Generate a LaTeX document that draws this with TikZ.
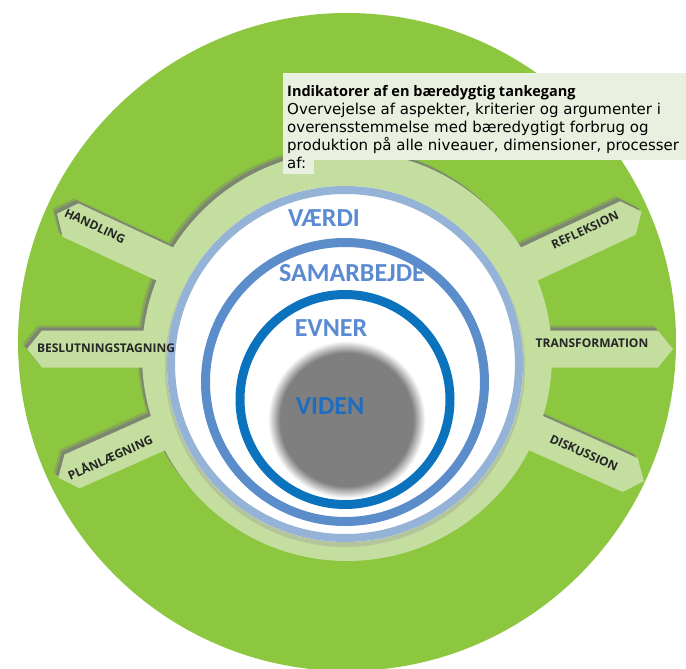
\documentclass[tikz,border=0pt]{standalone}
\usepackage{fontspec}
\usepackage{graphicx}
\setmainfont{DejaVu Sans}
\newfontfamily\osans{Open Sans}
\newfontfamily\calfont{Carlito}
\definecolor{biggreen}{HTML}{8DC63F}
\definecolor{ltgreen}{HTML}{C4DE9F}
\definecolor{shadowc}{HTML}{7C8670}
\definecolor{ltblue}{HTML}{95B3D7}
\definecolor{midblue}{HTML}{5B8DCB}
\definecolor{dkblue}{HTML}{0B72BE}
\definecolor{discgray}{HTML}{7F7F80}
\definecolor{wordblue}{HTML}{5A8AD2}
\definecolor{vidblue}{HTML}{1F6DC2}
\definecolor{boxfill}{HTML}{EAF0DF}
\definecolor{labelc}{HTML}{262626}
\pgfdeclareradialshading{blurdisc}{\pgfpoint{0bp}{0bp}}{color(0bp)=(discgray); color(20.8bp)=(discgray); color(24.6bp)=(white); color(50bp)=(white)}
\newcommand\armpath[3]{\fill[#3,shift={(347,349)},rotate=#1] (0,-18.5) -- ({#2-15},-18.5) -- (#2,0) -- ({#2-15},18.5) -- (0,18.5) -- cycle;}
\newcommand\armset[1]{%
  \fill[#1] (347,356) circle (205);
  \armpath{0}{326}{#1}
  \armpath{25}{325}{#1}
  \armpath{-24}{325}{#1}
  \armpath{180}{320}{#1}
  \armpath{155}{320}{#1}
  \armpath{204}{316}{#1}}
\begin{document}
\begin{tikzpicture}[x=1pt,y=-1pt,
  armlabel/.style={font=\osans\bfseries\fontsize{12}{14}\selectfont, text=labelc, inner sep=0pt},
  bigword/.style={font=\calfont\bfseries\fontsize{26}{30}\selectfont, text=wordblue, inner sep=0pt},
  boxline/.style={font=\fontsize{15}{18}\selectfont, text=black, inner sep=0pt, anchor=base west}]
\useasboundingbox (0,0) rectangle (686,669);
\fill[white] (0,0) rectangle (686,669);
\fill[biggreen] (347,342) circle (329);
% ring with arms, shadow first
\begin{scope}[shift={(-4.5,-5)}]
  \armset{shadowc!45!biggreen}
\end{scope}
\begin{scope}[shift={(-2.5,-3)}]
  \armset{shadowc}
\end{scope}
\armset{ltgreen}
% concentric rings
\fill[black!40, opacity=0.35] (345,367) circle (180);
\fill[white] (345,364) circle (178);
\draw[ltblue, line width=8] (345,364) circle (174);
\draw[midblue, line width=9] (345,382) circle (139.5);
\draw[dkblue, line width=9] (345,399.5) circle (105);
\shade[shading=blurdisc] (346.5,419.5) circle (80);
% words
\node[bigword] (vaerdi) at (324,218) {VÆRDI};
\node[bigword] (samarbejde) at (352,273) {SAMARBEJDE};
\node[bigword] (evner) at (331,328) {EVNER};
\node[bigword, text=vidblue] (viden) at (330,406) {VIDEN};
% arm labels
\node[armlabel, rotate=-25] (handling) at (95,226) {HANDLING};
\node[armlabel] (beslut) at (106,348) {BESLUTNINGSTAGNING};
\node[armlabel, rotate=24] (plan) at (110,457) {PLÅNLÆGNING};
\node[armlabel, rotate=25] (refleksion) at (585,230) {REFLEKSION};
\node[armlabel] (transf) at (592,343) {TRANSFORMATION};
\node[armlabel, rotate=-24] (diskussion) at (584,453) {DISKUSSION};
% text box
\fill[boxfill] (283,73) rectangle (686,160);
\fill[boxfill] (283,160) rectangle (314,174);
\node[boxline, font=\osans\bfseries\fontsize{14.5}{18}\selectfont] (t1) at (287,97) {Indikatorer af en bæredygtig tankegang};
\node[boxline] (t2) at (287,114.75) {Overvejelse af aspekter, kriterier og argumenter i};
\node[boxline] (t3) at (287,132.5) {overensstemmelse med bæredygtigt forbrug og};
\node[boxline] (t4) at (287,150.25) {produktion på alle niveauer, dimensioner, processer};
\node[boxline] (t5) at (287,168) {af:};
\end{tikzpicture}
\end{document}
